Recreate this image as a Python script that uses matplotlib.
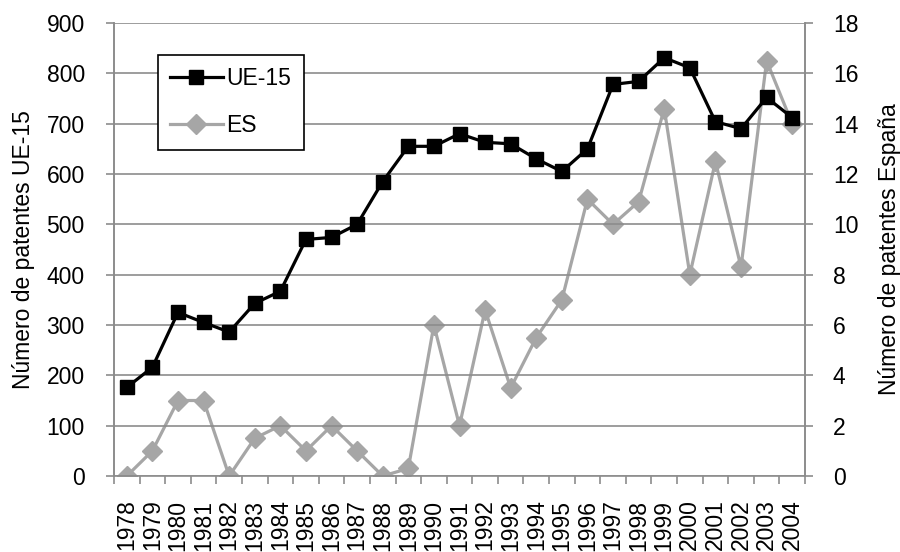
import matplotlib
matplotlib.use("Agg")
from matplotlib import pyplot as plt
import numpy as np

plt.rcParams['font.family'] = ['Liberation Sans', 'DejaVu Sans']

# Years and patent counts
years = [str(y) for y in range(1978, 2005)]
ue15 = [176, 216, 325, 305, 286, 343, 367, 470, 474, 500, 585, 655, 655, 680,
        663, 660, 630, 605, 650, 778, 784, 831, 811, 704, 690, 752, 712]
es = [0, 1, 3, 3, 0, 1.5, 2, 1, 2, 1, 0, 0.3, 6, 2, 6.6, 3.5, 5.5, 7, 11,
      10, 10.9, 14.6, 8, 12.5, 8.3, 16.5, 14]

grid_gray = "#8c8c8c"
es_gray = "#a6a6a6"
fs = 16.5

fig = plt.figure(figsize=(9, 5.52), dpi=100)
ax = fig.add_axes([114/900, 1 - 476/552, 691/900, 453/552])
ax2 = ax.twinx()

x = np.arange(len(years))

ax.plot(x, ue15, color="black", lw=2.3, marker="s", ms=10, label="UE-15", zorder=3)
ax2.plot(x, es, color=es_gray, lw=2.3, marker="D", ms=10, label="ES", zorder=2)

ax.set_ylim(0, 900)
ax.set_yticks(range(0, 901, 100))
ax2.set_ylim(0, 18)
ax2.set_yticks(range(0, 19, 2))
ax.set_xlim(-0.5, len(years) - 0.5)

ax.yaxis.grid(True, color=grid_gray, lw=1.2)
ax.set_axisbelow(True)

# Excel style: ticks between categories, labels centered
ax.set_xticks(x)
ax.set_xticklabels(years, rotation=90, fontsize=fs)
ax.set_xticks(np.arange(-0.5, len(years), 1), minor=True)
ax.tick_params(axis="x", which="major", length=0, pad=17)
ax.tick_params(axis="x", which="minor", length=6, color=grid_gray, width=1.2, direction="out")
ax.tick_params(axis="y", length=6, color=grid_gray, width=1.2, labelsize=fs, pad=15)
ax2.tick_params(axis="y", length=6, color=grid_gray, width=1.2, labelsize=fs, pad=14)

for a in (ax, ax2):
    for side in ("top", "bottom"):
        a.spines[side].set_visible(False)
    a.spines["left"].set_color(grid_gray)
    a.spines["right"].set_color(grid_gray)
    a.spines["left"].set_linewidth(1.2)
    a.spines["right"].set_linewidth(1.2)
ax.spines["bottom"].set_visible(True)
ax.spines["bottom"].set_color(grid_gray)
ax.spines["bottom"].set_linewidth(1.2)

ax.set_ylabel("Número de patentes UE-15", fontsize=fs, labelpad=8)
ax2.set_ylabel("Número de patentes España", fontsize=fs, labelpad=14)

# ES line behind the UE-15 line
ax.set_zorder(ax2.get_zorder() + 1)
ax.patch.set_visible(False)

h1, l1 = ax.get_legend_handles_labels()
h2, l2 = ax2.get_legend_handles_labels()
leg = ax.legend(h1 + h2, l1 + l2, loc="upper left", bbox_to_anchor=(0.063, 0.93),
                fontsize=fs, frameon=True, fancybox=False, edgecolor="black",
                framealpha=1, handlelength=2.3, handletextpad=0.15,
                labelspacing=1.05, borderpad=0.55, borderaxespad=0)
leg.get_frame().set_linewidth(1.2)

fig.savefig("out.png", dpi=100)
